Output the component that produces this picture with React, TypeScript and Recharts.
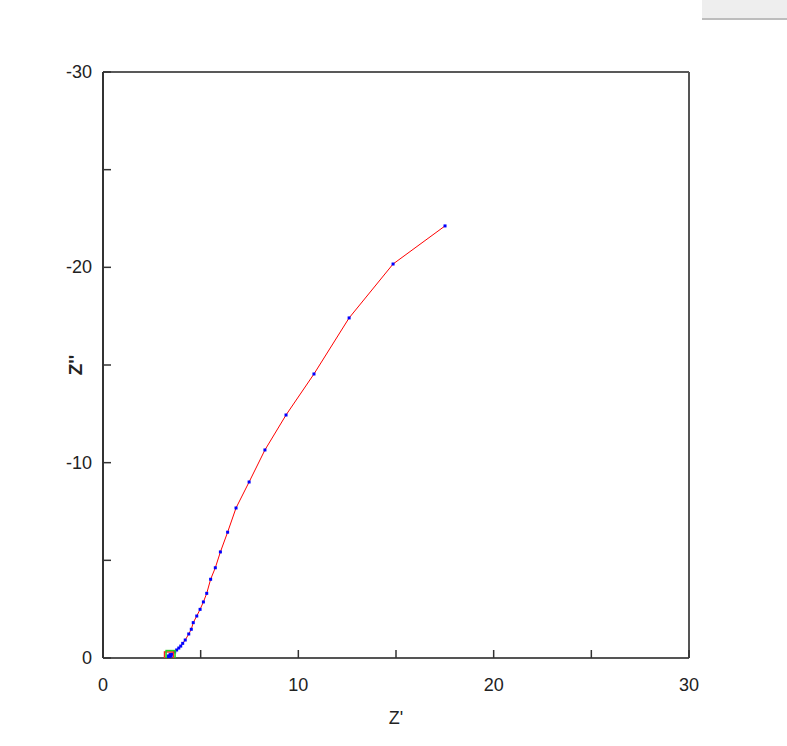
import React from "react";
import {
  ScatterChart,
  Scatter,
  XAxis,
  YAxis,
  ReferenceLine,
  Label,
} from "recharts";

const Z_RE = [
  3.43, 3.53, 3.67, 3.77, 3.88, 3.98, 4.08, 4.21, 4.39, 4.52, 4.62, 4.8, 4.97,
  5.14, 5.31, 5.51, 5.75, 6.01, 6.38, 6.81, 7.48, 8.29, 9.37, 10.8, 12.6, 14.85,
  17.51,
];
const Z_IM = [
  -0.1, -0.2, -0.31, -0.41, -0.51, -0.61, -0.75, -0.92, -1.23, -1.47, -1.81,
  -2.15, -2.49, -2.87, -3.31, -4.03, -4.62, -5.43, -6.44, -7.68, -9.01, -10.65,
  -12.44, -14.54, -17.41, -20.17, -22.12,
];

// start markers (red and green open squares)
const START_RED = [{ x: 3.38, y: -0.08 }];
const START_GREEN = [{ x: 3.46, y: -0.15 }];

const X_TICKS = [0, 5, 10, 15, 20, 25, 30];
const Y_TICKS = [-30, -25, -20, -15, -10, -5, 0];

const FONT = "'Liberation Sans', Arial, sans-serif";

const points = Z_RE.map((x, i) => ({ x, y: Z_IM[i] }));

function XTick(props: any) {
  const { x, y, payload } = props;
  const v = payload.value;
  return (
    <g>
      <line x1={x} x2={x} y1={y} y2={y - 8} stroke="#333" strokeWidth={1.5} />
      {v % 10 === 0 && (
        <text
          x={x}
          y={y + 27}
          textAnchor="middle"
          dominantBaseline="central"
          fontSize={18}
          fontFamily={FONT}
          fill="#222"
        >
          {v}
        </text>
      )}
    </g>
  );
}

function YTick(props: any) {
  const { x, y, payload } = props;
  const v = payload.value;
  return (
    <g>
      <line x1={x} x2={x + 8} y1={y} y2={y} stroke="#333" strokeWidth={1.5} />
      {v % 10 === 0 && (
        <text
          x={x - 11}
          y={y}
          textAnchor="end"
          dominantBaseline="central"
          fontSize={18}
          fontFamily={FONT}
          fill="#222"
        >
          {v}
        </text>
      )}
    </g>
  );
}

function Dot(props: any) {
  const { cx, cy } = props;
  return <rect x={cx - 1.5} y={cy - 1.5} width={3} height={3} fill="#0000ff" />;
}

function OpenSquare(color: string) {
  return (props: any) => {
    const { cx, cy } = props;
    return (
      <g>
        <rect x={cx - 2} y={cy - 2} width={4} height={4} fill="#0000ff" />
        <rect
          x={cx - 4.5}
          y={cy - 4.5}
          width={9}
          height={9}
          fill="none"
          stroke={color}
          strokeWidth={1.5}
        />
      </g>
    );
  };
}

export default function App() {
  return (
    <div style={{ position: "absolute", left: 0, top: 0, width: 787, height: 746 }}>
      <div
        style={{
          position: "absolute",
          left: 702,
          top: 0,
          width: 85,
          height: 18,
          background: "#eeeeee",
          borderBottom: "2px solid #bdbdbd",
        }}
      />
      <ScatterChart
        width={787}
        height={746}
        margin={{ top: 72, right: 98, left: 0, bottom: 0 }}
      >
        <XAxis
          type="number"
          dataKey="x"
          domain={[0, 30]}
          ticks={X_TICKS}
          interval={0}
          height={88}
          tickSize={0}
          tickMargin={0}
          tickLine={false}
          axisLine={{ stroke: "#555", strokeWidth: 2 }}
          tick={XTick}
          allowDataOverflow
        >
          <Label
            value="Z'"
            position="insideBottom"
            offset={22}
            style={{ fontSize: 18, fontFamily: FONT, fill: "#222" }}
          />
        </XAxis>
        <YAxis
          type="number"
          dataKey="y"
          domain={[-30, 0]}
          reversed
          ticks={Y_TICKS}
          interval={0}
          width={103}
          tickSize={0}
          tickMargin={0}
          tickLine={false}
          axisLine={{ stroke: "#333", strokeWidth: 2 }}
          tick={YTick}
          allowDataOverflow
        >
          <Label
            value="Z''"
            angle={-90}
            position="left"
            offset={-75}
            style={{
              fontSize: 19,
              fontWeight: "bold",
              fontFamily: FONT,
              fill: "#222",
              textAnchor: "middle",
            }}
          />
        </YAxis>
        <ReferenceLine y={-30} stroke="#222" strokeWidth={1.5} />
        <ReferenceLine x={30} stroke="#555" strokeWidth={2} />
        <Scatter
          data={points}
          line={{ stroke: "#ff0000", strokeWidth: 1 }}
          shape={Dot}
          isAnimationActive={false}
        />
        <Scatter
          data={START_RED}
          shape={OpenSquare("#ff2020")}
          isAnimationActive={false}
        />
        <Scatter
          data={START_GREEN}
          shape={OpenSquare("#20d020")}
          isAnimationActive={false}
        />
      </ScatterChart>
    </div>
  );
}
